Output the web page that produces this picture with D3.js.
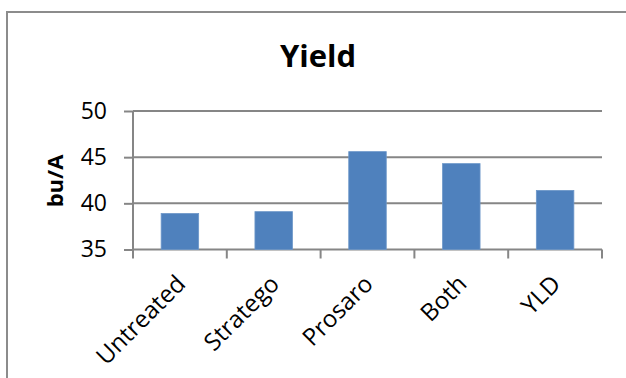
<!DOCTYPE html>
<meta charset="utf-8">
<html>
<head>
<style>
  body { margin: 0; background: #fff; }
  text { font-family: "Open Sans", sans-serif; }
</style>
</head>
<body>
<script src="https://d3js.org/d3.v7.min.js"></script>
<svg width="626" height="378"></svg>
<script>
    // chart data
    var categories = ["Untreated", "Stratego", "Prosaro", "Both", "YLD"];
    var yieldValues = [38.9, 39.1, 45.6, 44.3, 41.4];
    var yTicks = [35, 40, 45, 50];

    var svg = d3.select("svg");

    // outer chart frame (runs off the right and bottom edge)
    svg.append("rect")
        .attr("x", 7).attr("y", 12)
        .attr("width", 640).attr("height", 400)
        .attr("fill", "none")
        .attr("stroke", "#8c8c8c")
        .attr("stroke-width", 2);

    var plotLeft = 133, plotRight = 602, plotTop = 111, plotBottom = 249.5;

    var x = d3.scaleBand().domain(categories).range([plotLeft, plotRight])
        .paddingInner(0.6).paddingOuter(0.3);
    var y = d3.scaleLinear().domain([35, 50]).range([plotBottom, plotTop]);

    // gridlines + y axis
    var yAxis = svg.append("g")
        .attr("transform", "translate(" + plotLeft + ",0)")
        .call(d3.axisLeft(y).tickValues(yTicks).tickSize(9).tickPadding(17));
    yAxis.select(".domain").remove();
    yAxis.selectAll(".tick line").attr("stroke", "#868686").attr("stroke-width", 2);
    yAxis.selectAll(".tick text").attr("font-size", "23px").attr("fill", "#000")
        .style("font-family", "Open Sans");

    svg.append("g").selectAll("line")
        .data(yTicks)
        .enter().append("line")
        .attr("x1", plotLeft).attr("x2", plotRight)
        .attr("y1", function (d) { return y(d); })
        .attr("y2", function (d) { return y(d); })
        .attr("stroke", "#868686").attr("stroke-width", 2);

    svg.append("line")
        .attr("x1", plotLeft).attr("x2", plotLeft)
        .attr("y1", plotTop).attr("y2", plotBottom)
        .attr("stroke", "#868686").attr("stroke-width", 2);

    // bars
    svg.append("g").selectAll("rect")
        .data(yieldValues)
        .enter().append("rect")
        .attr("x", function (d, i) { return x(categories[i]); })
        .attr("y", function (d) { return y(d); })
        .attr("width", x.bandwidth())
        .attr("height", function (d) { return plotBottom - y(d); })
        .attr("fill", "#4f81bd")
        .attr("stroke", "#6d97c9")
        .attr("stroke-width", 0.8);

    // x axis ticks between categories
    var step = x.step();
    var xt = d3.range(categories.length + 1).map(function (i) { return plotLeft + i * step; });
    svg.append("g").selectAll("line")
        .data(xt)
        .enter().append("line")
        .attr("x1", function (d) { return d; }).attr("x2", function (d) { return d; })
        .attr("y1", plotBottom).attr("y2", plotBottom + 9)
        .attr("stroke", "#868686").attr("stroke-width", 2);

    // rotated category labels
    svg.append("g").selectAll("text")
        .data(categories)
        .enter().append("text")
        .attr("transform", function (d) {
            return "translate(" + (x(d) + x.bandwidth() / 2 + 1) + "," + (plotBottom + 30) + ") rotate(-45)";
        })
        .attr("text-anchor", "end")
        .attr("dy", "0.35em")
        .attr("font-size", "24px")
        .text(function (d) { return d; });

    // title
    svg.append("text")
        .attr("x", 318).attr("y", 67)
        .attr("text-anchor", "middle")
        .attr("font-size", "31px")
        .attr("font-weight", "bold")
        .text("Yield");

    // y axis label
    svg.append("text")
        .attr("transform", "translate(63,181) rotate(-90)")
        .attr("text-anchor", "middle")
        .attr("font-size", "22px")
        .attr("font-weight", "bold")
        .text("bu/A");
</script>
</body>
</html>
